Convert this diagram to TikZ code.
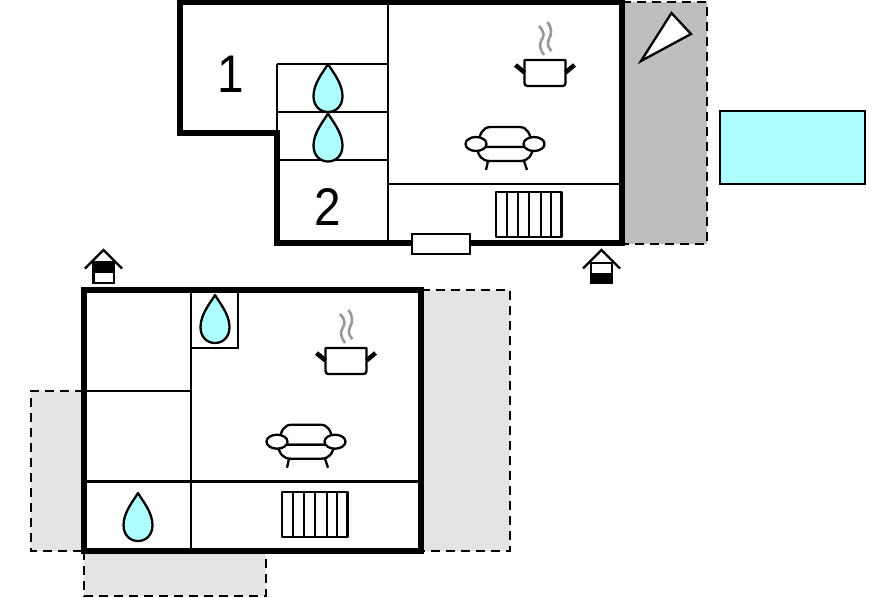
\documentclass[tikz,border=0pt]{standalone}
\usepackage{fontspec}
\setmainfont{Liberation Sans}
\definecolor{wetblue}{HTML}{AEFFFF}
\definecolor{terrace}{HTML}{BEBEBE}
\definecolor{lightterrace}{HTML}{E4E4E4}
\definecolor{steam}{HTML}{999999}
\tikzset{
  wall/.style={line width=5.2pt,line join=miter},
  inner wall/.style={line width=2.8pt},
  dash area/.style={draw=black,line width=2.8pt,dash pattern=on 9pt off 6pt},
  item/.style={line width=2.3pt,line join=round},
  label text/.style={font=\fontsize{53}{53}\selectfont,inner sep=0pt,xscale=.9},
  pics/drop/.style={code={
    \draw[item,fill=wetblue] (0,0) .. controls (4,7) and (14.5,19) .. (14.5,32)
      .. controls (14.5,42) and (8,48) .. (0,48)
      .. controls (-8,48) and (-14.5,42) .. (-14.5,32)
      .. controls (-14.5,19) and (-4,7) .. (0,0) -- cycle;
  }},
  pics/pot/.style={code={
    \draw[item,fill=white] (0,0) -- (0,23) .. controls (0,25) and (1,26) .. (3,26) -- (38,26) .. controls (40,26) and (41,25) .. (41,23) -- (41,0) -- cycle;
    \draw[line width=4.5pt] (-9,5) -- (0,12.5);
    \draw[line width=4.5pt] (50,5) -- (41,12.5);
    \draw[steam,line width=2.6pt] (14.5,-34) .. controls (20,-28) and (20,-24) .. (17,-20) .. controls (14,-15) and (16,-10) .. (19.5,-5);
    \draw[steam,line width=2.6pt] (22.8,-38) .. controls (28,-32) and (27,-25) .. (24.5,-21) .. controls (22,-16) and (24,-12) .. (27,-9);
  }},
  pics/sofa/.style={code={
    \draw[item,fill=white] (-27,0) .. controls (-25,-10) and (-23,-17) .. (-14,-17) -- (14,-17) .. controls (23,-17) and (25,-10) .. (27,0) -- (27,3) -- (-27,3) -- cycle;
    \draw[item,fill=white] (-28,3) .. controls (-27,12) and (-23,17) .. (-15,17) -- (15,17) .. controls (23,17) and (27,12) .. (28,3) -- cycle;
    \draw[item,fill=white] (-29,0) ellipse [x radius=10.5,y radius=7];
    \draw[item,fill=white] (29,0) ellipse [x radius=10.5,y radius=7];
    \draw[item] (-17,17) -- (-19,26);
    \draw[item] (19,17) -- (22,26);
  }},
  pics/radiator/.style={code={
    \draw[item,fill=white] (0,0) rectangle (65.5,45);
    \foreach \xx in {11.3,22,33.3,45,55} \draw[item] (\xx,0) -- (\xx,45);
  }},
  pics/house/.style={code={
    \draw[line width=2.3pt,line join=miter] (-18.5,18.5) -- (0,0) -- (18.5,18.5);
  }}
}
\begin{document}
\begin{tikzpicture}[x=1pt,y=-1pt]
\useasboundingbox (0,0) rectangle (896,597);
% terraces
\path[fill=terrace] (622,2) rectangle (707,244);
\draw[dash area] (622,2) -- (707,2) -- (707,244) -- (622,244);
\path[fill=lightterrace] (31,391) rectangle (84,551);
\draw[dash area] (84,391) -- (31,391) -- (31,551) -- (84,551);
\path[fill=lightterrace] (421,290) rectangle (510,551);
\draw[dash area] (421,290) -- (510,290) -- (510,551) -- (421,551);
\path[fill=lightterrace] (84,551) rectangle (266,596);
\draw[dash area] (84,551) -- (84,596) -- (266,596) -- (266,551);
% parasol and pool
\draw[item,fill=white,line join=miter] (641,61) -- (671.5,13) -- (691,34) -- cycle;
\draw[inner wall,fill=wetblue] (720,111) rectangle (865,184);
% upper floor
\draw[inner wall] (388,2) -- (388,243);
\draw[inner wall] (277,64) -- (388,64);
\draw[inner wall] (277,112) -- (388,112);
\draw[inner wall] (277,160) -- (388,160);
\draw[inner wall] (277,64) -- (277,133);
\draw[inner wall] (388,184) -- (622,184);
\draw[wall] (180,2) -- (622,2) -- (622,243) -- (277,243) -- (277,133) -- (180,133) -- cycle;
\draw[inner wall,fill=white] (412,234) rectangle (470,254);
\node[label text] (one) at (231,74) {1};
\node[label text] (two) at (328,207) {2};
\pic at (328,64) {drop};
\pic at (328,113.5) {drop};
\pic at (524.5,60) {pot};
\pic at (505,144) {sofa};
\pic at (496,192) {radiator};
% lower floor
\draw[inner wall] (191,290) -- (191,551);
\draw[inner wall] (84,391) -- (191,391);
\draw[inner wall] (84,481.5) -- (421,481.5);
\draw[inner wall] (191,348) -- (238,348) -- (238,290);
\draw[wall] (84,290) rectangle (421,551);
\pic at (215,295) {drop};
\pic at (138,493) {drop};
\pic at (325.5,348) {pot};
\pic at (306,441.7) {sofa};
\pic at (282,492) {radiator};
% entrances
\pic at (103.5,250) {house};
\draw[line width=2.3pt,fill=white] (93.5,262.5) rectangle (114,283);
\path[fill=black] (93.5,262.5) rectangle (114,272.5);
\pic at (601.5,250) {house};
\draw[line width=2.3pt,fill=white] (591,263) rectangle (612,283);
\path[fill=black] (591,273) rectangle (612,283);
\end{tikzpicture}
\end{document}
